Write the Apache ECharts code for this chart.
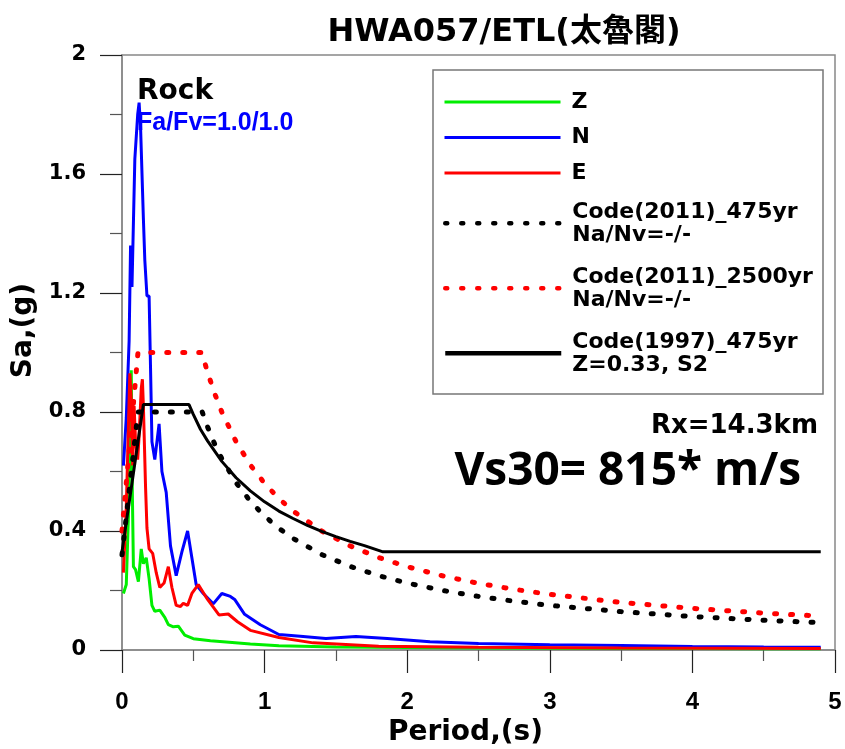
<!DOCTYPE html>
<html><head><meta charset="utf-8">
<script src="https://cdn.jsdelivr.net/npm/echarts@6/dist/echarts.min.js"></script>
<style>html,body{margin:0;padding:0;background:#fff}#c{width:845px;height:749px}</style>
</head><body><div id="c"></div>
<script>
const titleText = 'HWA057/ETL(太魯閣)';
const xTicks = [0, 1, 2, 3, 4, 5];
const yTicks = [0, 0.4, 0.8, 1.2, 1.6, 2];

const zPeriod = [0.01,0.03,0.045,0.058,0.065,0.072,0.08,0.095,0.115,0.135,0.15,0.17,0.19,0.21,0.23,0.265,0.3,0.325,0.36,0.395,0.44,0.5,0.62,0.73,0.9,1.1,1.5,2.0,2.5,3.0,3.5,4.0,4.5,4.9];
const zSa     = [0.19,0.22,0.45,0.80,0.94,0.55,0.28,0.27,0.23,0.34,0.29,0.31,0.24,0.15,0.13,0.134,0.11,0.085,0.078,0.08,0.05,0.038,0.031,0.027,0.02,0.014,0.01,0.008,0.007,0.006,0.005,0.005,0.004,0.004];

const nPeriod = [0.01,0.03,0.05,0.06,0.07,0.09,0.11,0.12,0.13,0.15,0.16,0.175,0.19,0.2,0.21,0.23,0.26,0.28,0.31,0.34,0.38,0.42,0.46,0.49,0.52,0.57,0.64,0.70,0.76,0.79,0.86,0.97,1.1,1.25,1.43,1.64,1.86,2.16,2.5,3.0,3.5,4.0,4.5,4.9];
const nSa     = [0.62,0.78,1.04,1.36,1.22,1.65,1.80,1.84,1.76,1.45,1.31,1.19,1.19,0.95,0.70,0.64,0.76,0.60,0.53,0.35,0.25,0.33,0.40,0.31,0.22,0.19,0.155,0.19,0.18,0.17,0.12,0.085,0.052,0.046,0.039,0.045,0.039,0.028,0.022,0.018,0.015,0.012,0.010,0.009];

const ePeriod = [0.01,0.03,0.045,0.055,0.065,0.075,0.085,0.095,0.11,0.12,0.135,0.143,0.15,0.165,0.175,0.19,0.215,0.24,0.265,0.295,0.325,0.35,0.38,0.41,0.43,0.46,0.49,0.535,0.6,0.68,0.745,0.81,0.9,1.1,1.34,1.8,2.5,3.5,4.9];
const eSa     = [0.26,0.48,0.75,0.93,0.84,0.62,0.82,0.70,0.64,0.72,0.88,0.91,0.82,0.55,0.41,0.34,0.325,0.26,0.21,0.225,0.28,0.21,0.15,0.146,0.157,0.15,0.19,0.22,0.17,0.118,0.121,0.095,0.066,0.042,0.024,0.013,0.009,0.007,0.005];

const c475Period = [0,0.1125,0.5625,0.6,0.65,0.7,0.8,0.9,1.0,1.1,1.2,1.4,1.6,1.8,2.0,2.25,2.5,2.75,3.0,3.5,4.0,4.5,4.9];
const c475Sa     = [0.32,0.8,0.8,0.75,0.692,0.643,0.5625,0.5,0.45,0.409,0.375,0.321,0.281,0.25,0.225,0.2,0.18,0.164,0.15,0.129,0.1125,0.1,0.092];

const c2500Period = [0,0.112,0.56,0.6,0.65,0.7,0.8,0.9,1.0,1.1,1.2,1.4,1.6,1.8,2.0,2.25,2.5,2.75,3.0,3.5,4.0,4.5,4.9];
const c2500Sa     = [0.4,1.0,1.0,0.933,0.862,0.8,0.7,0.622,0.56,0.509,0.467,0.4,0.35,0.311,0.28,0.249,0.224,0.204,0.187,0.16,0.14,0.124,0.114];

const c1997Period = [0,0.15,0.47,0.5,0.55,0.6,0.7,0.8,0.9,1.0,1.1,1.2,1.3,1.4,1.5,1.6,1.7,1.83,4.9];
const c1997Sa     = [0.33,0.825,0.825,0.792,0.742,0.703,0.634,0.579,0.535,0.498,0.467,0.442,0.419,0.399,0.381,0.365,0.351,0.33,0.33];

const names = ['Z','N','E','Code(2011)_475yr\nNa/Nv=-/-','Code(2011)_2500yr\nNa/Nv=-/-','Code(1997)_475yr\nZ=0.33, S2'];

function pairs(t, s) { return t.map((v, i) => [v, s[i]]); }

const DJ = "'DejaVu Sans', sans-serif";
const LB = "'Liberation Sans', Arial, sans-serif";

const chart = echarts.init(document.getElementById('c'), null, {renderer: 'canvas'});
const dot = [2, 14];

const option = {
  animation: false,
  backgroundColor: '#fff',
  title: {
    text: titleText, left: 499, top: 12, textAlign: 'center',
    textStyle: {fontFamily: "'DejaVu Sans','Noto Sans CJK TC',sans-serif", fontWeight: 'bold', fontSize: 32, color: '#000'}
  },
  grid: {left: 122, right: 10, top: 55, bottom: 99, show: true, borderColor: '#888', borderWidth: 1.5, containLabel: false, outerBoundsMode: 'none'},
  xAxis: {
    type: 'value', min: xTicks[0], max: xTicks[xTicks.length - 1], interval: xTicks[1] - xTicks[0],
    axisLine: {show: true, onZero: false, lineStyle: {color: '#888', width: 1.5}},
    axisTick: {show: true, length: 23, lineStyle: {color: '#222', width: 1.2}},
    minorTick: {show: true, splitNumber: 2, length: 11, lineStyle: {color: '#555', width: 1.2}},
    splitLine: {show: false}, minorSplitLine: {show: false},
    axisLabel: {margin: 40, fontFamily: LB, fontWeight: 'bold', fontSize: 24, color: '#000'},
    name: 'Period,(s)', nameLocation: 'middle', nameGap: 68,
    nameTextStyle: {fontFamily: DJ, fontWeight: 'bold', fontSize: 28, color: '#000', padding: [0, 26, 0, 0]}
  },
  yAxis: {
    type: 'value', min: yTicks[0], max: yTicks[yTicks.length - 1], interval: yTicks[1] - yTicks[0],
    axisLine: {show: true, onZero: false, lineStyle: {color: '#888', width: 1.5}},
    axisTick: {show: true, length: 22, lineStyle: {color: '#222', width: 1.2}},
    minorTick: {show: true, splitNumber: 2, length: 12, lineStyle: {color: '#555', width: 1.2}},
    splitLine: {show: false}, minorSplitLine: {show: false},
    axisLabel: {margin: 36, fontFamily: DJ, fontWeight: 'bold', fontSize: 21, color: '#000'},
    name: 'Sa,(g)', nameLocation: 'middle', nameGap: 57,
    nameTextStyle: {fontFamily: DJ, fontWeight: 'bold', fontSize: 28, color: '#000', padding: [0, 0, 0, 44]}
  },
  legend: [
    {
      data: names.slice(0, 3), orient: 'vertical', left: 443, top: 90, padding: 0,
      itemWidth: 116, itemHeight: 14, itemGap: 11.5, selectedMode: false,
      lineStyle: {width: 3}, itemStyle: {opacity: 0},
      textStyle: {fontFamily: DJ, fontWeight: 'bold', fontSize: 22, lineHeight: 24, color: '#000', padding: [0, 0, 0, 6]}
    },
    {
      data: names.slice(3, 6), orient: 'vertical', left: 443, top: 200.3, padding: 0,
      itemWidth: 116, itemHeight: 14, itemGap: 19, selectedMode: false,
      lineStyle: {width: 4.5}, itemStyle: {opacity: 0},
      textStyle: {fontFamily: DJ, fontWeight: 'bold', fontSize: 22, lineHeight: 23, color: '#000', padding: [0, 0, 0, 6]}
    }
  ],
  graphic: [
    {type: 'rect', shape: {x: 433, y: 70, width: 390, height: 324}, style: {fill: null, stroke: '#777', lineWidth: 1.5}, z: 1},
    {type: 'text', x: 137, y: 92, style: {text: 'Rock', font: "bold 28px 'DejaVu Sans'", fill: '#000', align: 'left', verticalAlign: 'middle'}, z: 10},
    {type: 'text', x: 137, y: 123, style: {text: 'Fa/Fv=1.0/1.0', font: "bold 25px 'Liberation Sans'", fill: '#0000ff', align: 'left', verticalAlign: 'middle'}, z: 10},
    {type: 'text', x: 818, y: 426, style: {text: 'Rx=14.3km', font: "bold 26px 'DejaVu Sans'", fill: '#000', align: 'right', verticalAlign: 'middle'}, z: 10},
    {type: 'text', x: 801, y: 472, style: {text: 'Vs30= 815* m/s', font: "bold 46px 'Open Sans'", fill: '#000', align: 'right', verticalAlign: 'middle'}, z: 10}
  ],
  series: [
    {name: names[0], type: 'line', data: pairs(zPeriod, zSa), symbol: 'none', lineStyle: {color: '#00ee00', width: 3}, itemStyle: {color: '#00ee00'}},
    {name: names[1], type: 'line', data: pairs(nPeriod, nSa), symbol: 'none', lineStyle: {color: '#0000ff', width: 3}, itemStyle: {color: '#0000ff'}},
    {name: names[2], type: 'line', data: pairs(ePeriod, eSa), symbol: 'none', lineStyle: {color: '#ff0000', width: 3}, itemStyle: {color: '#ff0000'}},
    {name: names[3], type: 'line', data: pairs(c475Period, c475Sa), symbol: 'none', lineStyle: {color: '#000', width: 5, type: dot, cap: 'round'}, itemStyle: {color: '#000'}},
    {name: names[4], type: 'line', data: pairs(c2500Period, c2500Sa), symbol: 'none', lineStyle: {color: '#ff0000', width: 5, type: dot, cap: 'round'}, itemStyle: {color: '#ff0000'}},
    {name: names[5], type: 'line', data: pairs(c1997Period, c1997Sa), symbol: 'none', lineStyle: {color: '#000', width: 3}, itemStyle: {color: '#000'}}
  ]
};
chart.setOption(option);
</script>
</body></html>
